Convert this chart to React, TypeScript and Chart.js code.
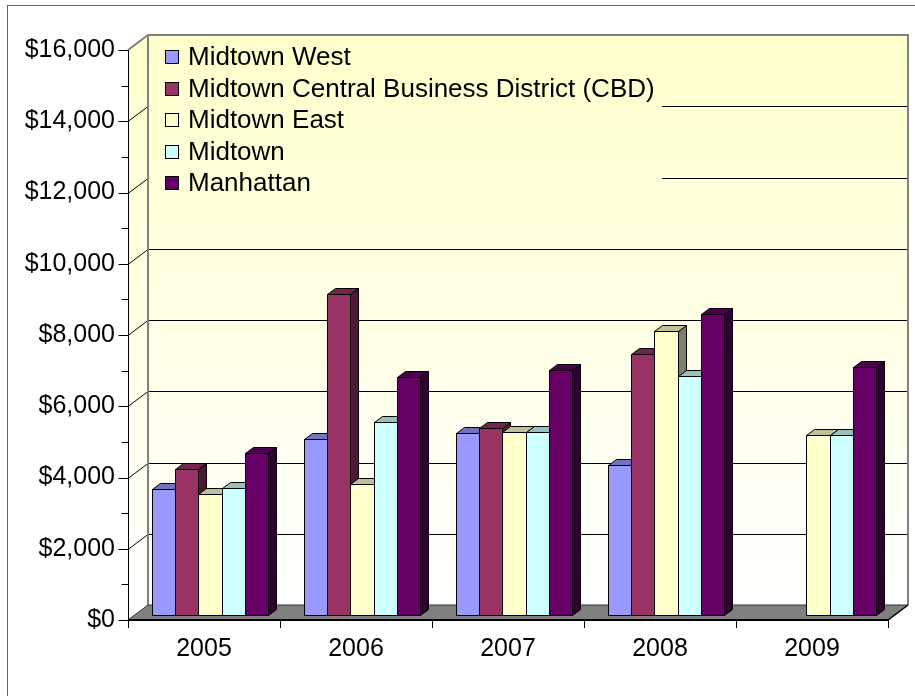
import React, { useEffect, useRef } from 'react';
import { Chart, registerables } from 'chart.js';

Chart.register(...registerables);

// ---------- data ----------
const categories = ['2005', '2006', '2007', '2008', '2009'];
const seriesNames = [
  'Midtown West',
  'Midtown Central Business District (CBD)',
  'Midtown East',
  'Midtown',
  'Manhattan',
];
const midtownWest = [3530, 4930, 5100, 4200, null];
const midtownCBD = [4090, 9010, 5250, 7340, null];
const midtownEast = [3400, 3690, 5150, 7960, 5040];
const midtown = [3570, 5430, 5150, 6710, 5040];
const manhattan = [4540, 6670, 6890, 8460, 6950];
const seriesColors = ['#9999FF', '#993366', '#FFFFCC', '#CCFFFF', '#660066'];
const yMin = 0;
const yMax = 16000;
const yStep = 2000;
const yMinorStep = 1000;

// ---------- styling ----------
const FONT = '"Liberation Sans", Arial, sans-serif';
const WALL_DX = 20;
const WALL_DY = -15;
const BAR_SX = 6;
const BAR_SY = -5;
const BAR_DX = 8;
const BAR_DY = -6;

function shade(hex: string, f: number): string {
  const n = parseInt(hex.slice(1), 16);
  const r = Math.round(((n >> 16) & 255) * f);
  const g = Math.round(((n >> 8) & 255) * f);
  const b = Math.round((n & 255) * f);
  return `rgb(${r},${g},${b})`;
}

function poly(ctx: CanvasRenderingContext2D, pts: number[][]) {
  ctx.beginPath();
  ctx.moveTo(pts[0][0], pts[0][1]);
  for (let i = 1; i < pts.length; i++) ctx.lineTo(pts[i][0], pts[i][1]);
  ctx.closePath();
}

const threeD = {
  id: 'threeD',
  beforeDraw(chart: any) {
    const ctx = chart.ctx as CanvasRenderingContext2D;
    ctx.save();
    ctx.fillStyle = '#FFFFFF';
    ctx.fillRect(0, 0, chart.width, chart.height);
    ctx.strokeStyle = '#666666';
    ctx.lineWidth = 1;
    ctx.strokeRect(7.5, 5.5, chart.width + 20, chart.height + 20);
    ctx.restore();
  },
  beforeDatasetDraw() {
    return false;
  },
  beforeDatasetsDraw(chart: any) {
    const ctx = chart.ctx as CanvasRenderingContext2D;
    const a = chart.chartArea;
    const ys = chart.scales.y;
    const L = a.left, R = a.right, T = a.top, B = a.bottom;
    ctx.save();
    const grad = ctx.createLinearGradient(0, T + WALL_DY, 0, B + WALL_DY);
    grad.addColorStop(0, '#FFFFCC');
    grad.addColorStop(1, '#FFFFFF');
    ctx.fillStyle = grad;
    // side wall
    poly(ctx, [[L, T], [L + WALL_DX, T + WALL_DY], [L + WALL_DX, B + WALL_DY], [L, B]]);
    ctx.fill();
    // back wall
    ctx.fillRect(L + WALL_DX, T + WALL_DY, R - L, B - T);
    // gridlines
    ctx.strokeStyle = '#000000';
    ctx.lineWidth = 1;
    for (let v = yMin + yStep; v < yMax; v += yStep) {
      const yy = Math.round(ys.getPixelForValue(v)) + 0.5;
      ctx.beginPath();
      ctx.moveTo(L, yy);
      ctx.lineTo(L + WALL_DX, yy + WALL_DY);
      ctx.lineTo(R + WALL_DX, yy + WALL_DY);
      ctx.stroke();
    }
    // legend background (covers gridlines)
    ctx.fillStyle = grad;
    ctx.fillRect(L + WALL_DX + 1, T + WALL_DY + 1, 662 - (L + WALL_DX + 1), 205 - (T + WALL_DY + 1));
    // wall borders
    ctx.strokeStyle = '#808080';
    ctx.lineWidth = 2;
    ctx.beginPath();
    ctx.moveTo(L, T);
    ctx.lineTo(L + WALL_DX, T + WALL_DY);
    ctx.lineTo(R + WALL_DX, T + WALL_DY);
    ctx.lineTo(R + WALL_DX, B + WALL_DY);
    ctx.moveTo(L + WALL_DX, T + WALL_DY);
    ctx.lineTo(L + WALL_DX, B + WALL_DY);
    ctx.stroke();
    // floor
    ctx.fillStyle = '#808080';
    poly(ctx, [[L, B], [R, B], [R + WALL_DX, B + WALL_DY], [L + WALL_DX, B + WALL_DY]]);
    ctx.fill();
    ctx.strokeStyle = '#333333';
    ctx.lineWidth = 1;
    ctx.stroke();
    ctx.strokeStyle = '#000000';
    ctx.lineWidth = 1.5;
    ctx.beginPath();
    ctx.moveTo(R, B);
    ctx.lineTo(R + WALL_DX, B + WALL_DY);
    ctx.stroke();
    ctx.restore();
  },
  afterDatasetsDraw(chart: any) {
    const ctx = chart.ctx as CanvasRenderingContext2D;
    const ds = chart.data.datasets;
    const metas = ds.map((_: any, i: number) => chart.getDatasetMeta(i));
    ctx.save();
    ctx.lineWidth = 1;
    ctx.strokeStyle = '#000000';
    ctx.lineJoin = 'miter';
    for (let c = 0; c < categories.length; c++) {
      for (let s = 0; s < ds.length; s++) {
        const val = ds[s].data[c];
        if (val === null || val === undefined) continue;
        const el = metas[s].data[c];
        const p = el.getProps(['x', 'y', 'base', 'width'], true);
        const x0 = Math.round(p.x - p.width / 2 + BAR_SX) + 0.5;
        const x1 = Math.round(p.x + p.width / 2 + BAR_SX) + 0.5;
        const yt = Math.round(p.y + BAR_SY) + 0.5;
        const yb = Math.round(p.base + BAR_SY) + 0.5;
        const col = seriesColors[s];
        // side
        ctx.fillStyle = shade(col, 0.5);
        poly(ctx, [[x1, yt], [x1 + BAR_DX, yt + BAR_DY], [x1 + BAR_DX, yb + BAR_DY], [x1, yb]]);
        ctx.fill();
        ctx.stroke();
        // top
        ctx.fillStyle = shade(col, 0.75);
        poly(ctx, [[x0, yt], [x1, yt], [x1 + BAR_DX, yt + BAR_DY], [x0 + BAR_DX, yt + BAR_DY]]);
        ctx.fill();
        ctx.stroke();
        // front
        ctx.fillStyle = col;
        ctx.fillRect(x0, yt, x1 - x0, yb - yt);
        ctx.strokeRect(x0, yt, x1 - x0, yb - yt);
      }
    }
    // axes
    const a = chart.chartArea;
    const ys = chart.scales.y;
    const L = Math.round(a.left) + 0.5;
    ctx.strokeStyle = '#000000';
    ctx.lineWidth = 1;
    ctx.beginPath();
    ctx.moveTo(L, a.top);
    ctx.lineTo(L, a.bottom);
    for (let v = yMin; v <= yMax; v += yMinorStep) {
      const yy = Math.round(ys.getPixelForValue(v)) + 0.5;
      const major = v % yStep === 0;
      ctx.moveTo(L - (major ? 10 : 7), yy);
      ctx.lineTo(L, yy);
    }
    ctx.stroke();
    ctx.lineWidth = 2;
    ctx.beginPath();
    ctx.moveTo(a.left, a.bottom);
    ctx.lineTo(a.right, a.bottom);
    ctx.stroke();
    ctx.lineWidth = 1;
    ctx.beginPath();
    const cw = (a.right - a.left) / categories.length;
    for (let i = 0; i <= categories.length; i++) {
      const xx = Math.round(a.left + i * cw) + 0.5;
      ctx.moveTo(xx, a.bottom);
      ctx.lineTo(xx, a.bottom + 8);
    }
    ctx.stroke();
    ctx.restore();
  },
  afterDraw(chart: any) {
    const ctx = chart.ctx as CanvasRenderingContext2D;
    ctx.save();
    ctx.font = `26px ${FONT}`;
    ctx.textBaseline = 'middle';
    ctx.textAlign = 'left';
    chart.data.datasets.forEach((d: any, i: number) => {
      const cy = 57 + i * 31.5;
      ctx.fillStyle = seriesColors[i];
      ctx.fillRect(165.5, Math.round(cy - 7) + 0.5, 13, 13);
      ctx.strokeStyle = '#000000';
      ctx.lineWidth = 1;
      ctx.strokeRect(165.5, Math.round(cy - 7) + 0.5, 13, 13);
      ctx.fillStyle = '#000000';
      ctx.fillText(d.label, 188, cy + 1);
    });
    ctx.restore();
  },
};

export default function App() {
  const ref = useRef<HTMLCanvasElement | null>(null);
  useEffect(() => {
    if (!ref.current) return;
    const seriesData = [midtownWest, midtownCBD, midtownEast, midtown, manhattan];
    const chart = new Chart(ref.current, {
      type: 'bar',
      data: {
        labels: categories,
        datasets: seriesNames.map((name, i) => ({
          label: name,
          data: seriesData[i] as any,
          backgroundColor: seriesColors[i],
          borderColor: '#000000',
          borderWidth: 1,
          categoryPercentage: 0.763,
          barPercentage: 1,
        })),
      },
      options: {
        responsive: false,
        animation: false,
        events: [],
        layout: { padding: { left: 8, top: 50, right: 27, bottom: 0 } },
        plugins: { legend: { display: false }, tooltip: { enabled: false } },
        scales: {
          x: {
            grid: { display: false, drawTicks: false },
            border: { display: false },
            ticks: {
              font: { family: FONT, size: 25 },
              color: '#000000',
              padding: 14,
              maxRotation: 0,
              autoSkip: false,
            },
            afterFit: (s: any) => {
              s.height = 76;
            },
          },
          y: {
            min: yMin,
            max: yMax,
            grid: { display: false, drawTicks: false },
            border: { display: false },
            ticks: {
              stepSize: yStep,
              font: { family: FONT, size: 25 },
              color: '#000000',
              padding: 13,
              callback: (v: any) => '$' + Number(v).toLocaleString('en-US'),
            },
            afterFit: (s: any) => {
              s.width = 120;
            },
          },
        },
      } as any,
      plugins: [threeD as any],
    });
    return () => chart.destroy();
  }, []);
  return (
    <div style={{ position: 'absolute', left: 0, top: 0, width: 915, height: 696 }}>
      <canvas ref={ref} width={915} height={696} style={{ display: 'block' }} />
    </div>
  );
}
